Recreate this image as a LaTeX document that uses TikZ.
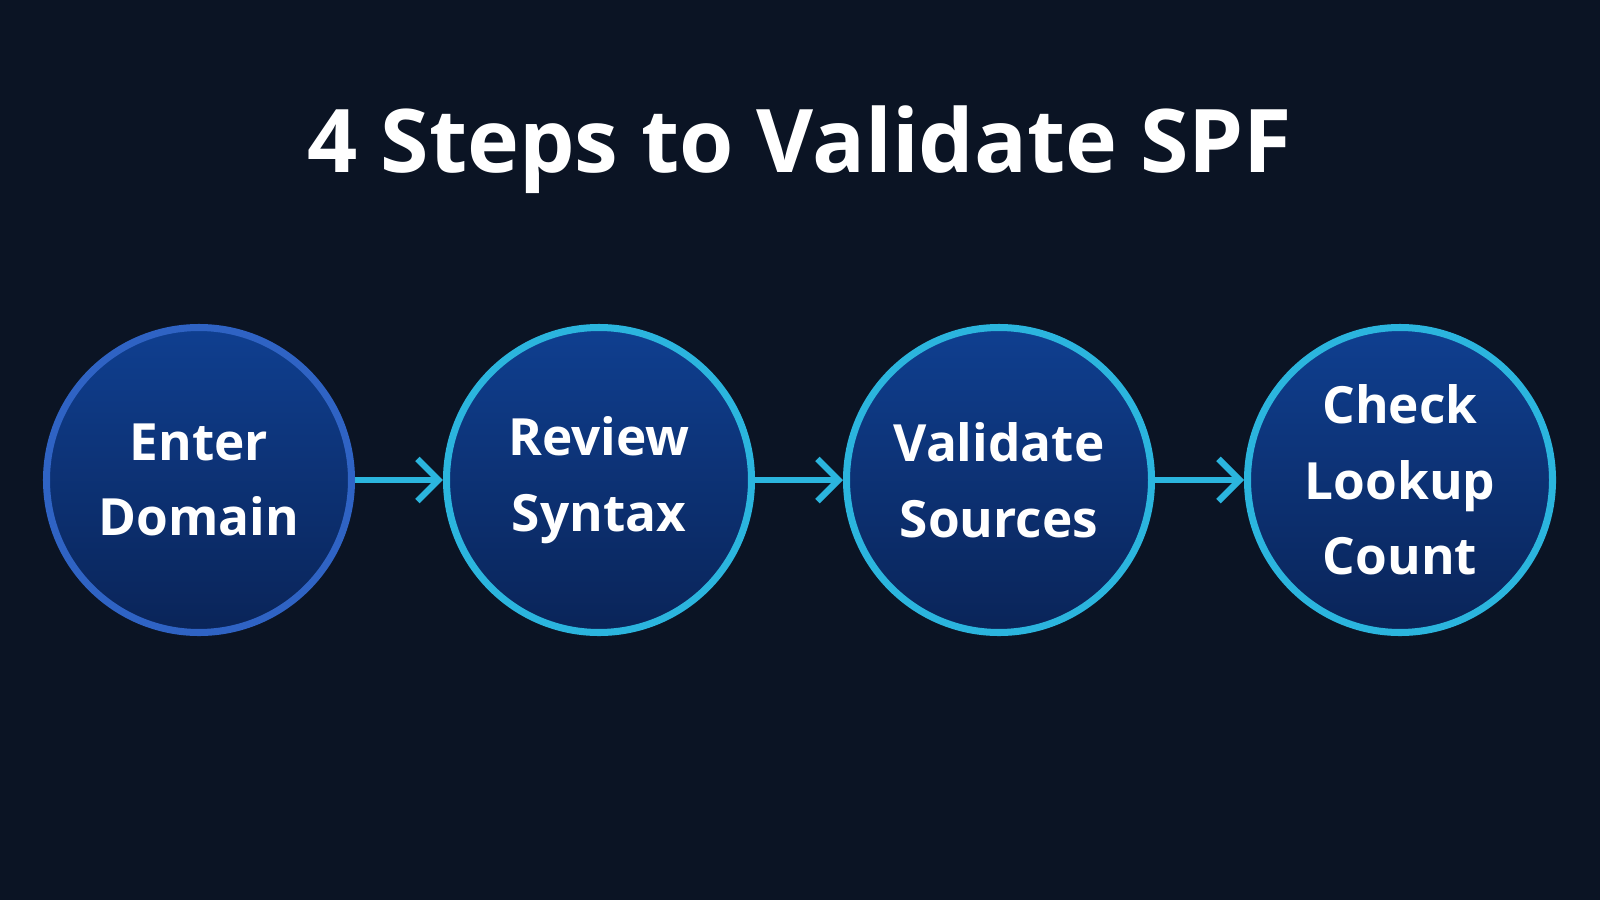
\documentclass[tikz,border=0pt]{standalone}
\usepackage{fontspec}
\setmainfont{Open Sans}
\usetikzlibrary{positioning,arrows.meta}
\definecolor{bgdark}{HTML}{0B1424}
\definecolor{stepcyan}{HTML}{2BB5DE}
\definecolor{stepblue}{HTML}{2F63C4}
\definecolor{filltop}{HTML}{0F3F90}
\definecolor{fillbot}{HTML}{0A2458}
\begin{document}
\begin{tikzpicture}
        \tikzstyle{step_node} = [shape = circle, draw = stepcyan, line width = 2pt,
                                 minimum size = 3.05cm, inner sep = 0pt, align = center,
                                 top color = filltop, bottom color = fillbot,
                                 text = white, font = \bfseries\fontsize{14.6}{21.5}\selectfont]
        \tikzstyle{step_arrow} = [-{Straight Barb[length=6pt,width=12pt]}, draw = stepcyan, line width = 1.8pt]

        \fill[bgdark] (0,0) rectangle (16,9);

        \node[text = white, font = \bfseries\fontsize{25}{30}\selectfont] at (8.0, 7.5) (title) {4 Steps to Validate SPF};

        \node[step_node, draw = stepblue] at ( 1.99, 4.2) (enter)  {Enter\\Domain};
        \node[step_node]                  at ( 5.99, 4.2) (review) {Review\\Syntax};
        \node[step_node]                  at ( 9.99, 4.2) (valid)  {Validate\\Sources};
        \node[step_node]                  at (14.00, 4.2) (check)  {Check\\Lookup\\Count};

        \draw[step_arrow]
          (enter)  edge (review)
          (review) edge (valid)
          (valid)  edge (check)
        ;
\end{tikzpicture}
\end{document}
